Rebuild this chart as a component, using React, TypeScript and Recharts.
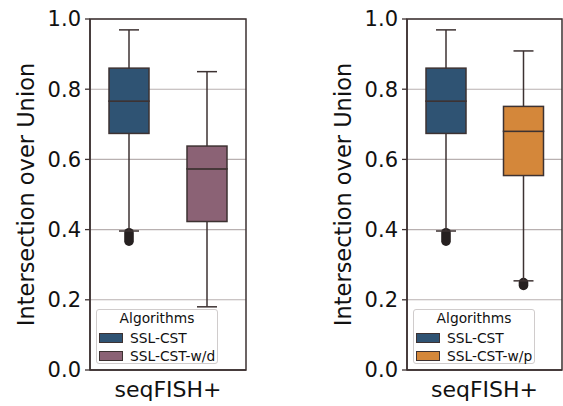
import React from 'react';
import { ComposedChart, Bar, XAxis, YAxis, CartesianGrid, ReferenceArea, Legend } from 'recharts';

// ---- data ----
const groupLabel = 'seqFISH+';
const yTicks = [0, 0.2, 0.4, 0.6, 0.8, 1.0];

const leftCategories = ['SSL-CST', 'SSL-CST-w/d'];
const leftWhiskerLow = [0.396, 0.18];
const leftQ1 = [0.674, 0.423];
const leftMedian = [0.766, 0.573];
const leftQ3 = [0.86, 0.638];
const leftWhiskerHigh = [0.969, 0.85];
const leftOutlierLow: (number | null)[] = [0.367, null];
const leftOutlierHigh: (number | null)[] = [0.391, null];
const leftColors = ['#2f5373', '#8b6275'];

const rightCategories = ['SSL-CST', 'SSL-CST-w/p'];
const rightWhiskerLow = [0.396, 0.254];
const rightQ1 = [0.674, 0.554];
const rightMedian = [0.766, 0.68];
const rightQ3 = [0.86, 0.751];
const rightWhiskerHigh = [0.969, 0.909];
const rightOutlierLow: (number | null)[] = [0.367, 0.241];
const rightOutlierHigh: (number | null)[] = [0.391, 0.249];
const rightColors = ['#2f5373', '#d4873a'];

const LINE = '#3d3232';
const FONT = 'DejaVu Sans, sans-serif';

function buildRows(
  cats: string[], wl: number[], q1: number[], med: number[], q3: number[], wh: number[],
  ol: (number | null)[], oh: (number | null)[], colors: string[]
) {
  return cats.map((c, i) => {
    const hasOut = ol[i] != null && oh[i] != null;
    const base = hasOut ? (ol[i] as number) : wl[i];
    const outSeg = hasOut ? (oh[i] as number) - (ol[i] as number) : 0;
    const gap = hasOut ? wl[i] - (oh[i] as number) : 0;
    return {
      cat: c,
      color: colors[i],
      hasOut,
      base,
      outSeg,
      gap,
      wLow: q1[i] - wl[i],
      boxLo: med[i] - q1[i],
      boxHi: q3[i] - med[i],
      wHigh: wh[i] - q3[i],
    };
  });
}

const Empty = () => null;

const OutlierShape = (props: any) => {
  const { x, y, width, height, payload } = props;
  if (!payload || !payload.hasOut) return null;
  const cx = x + width / 2;
  const r = 4.8;
  return (
    <rect x={cx - r} y={y - r} width={2 * r} height={Math.max(height, 0) + 2 * r} rx={r} ry={r} fill="#262020" />
  );
};

const LowWhisker = (props: any) => {
  const { x, y, width, height } = props;
  const cx = x + width / 2;
  const yb = y + height;
  return (
    <g>
      <line x1={cx} x2={cx} y1={y} y2={yb} stroke={LINE} strokeWidth={1.5} />
      <line x1={cx - width / 4} x2={cx + width / 4} y1={yb} y2={yb} stroke={LINE} strokeWidth={1.5} />
    </g>
  );
};

const HighWhisker = (props: any) => {
  const { x, y, width, height } = props;
  const cx = x + width / 2;
  return (
    <g>
      <line x1={cx} x2={cx} y1={y} y2={y + height} stroke={LINE} strokeWidth={1.5} />
      <line x1={cx - width / 4} x2={cx + width / 4} y1={y} y2={y} stroke={LINE} strokeWidth={1.5} />
    </g>
  );
};

const BoxShape = (props: any) => {
  const { x, y, width, height, payload } = props;
  return (
    <rect x={x} y={y} width={width} height={height} fill={payload.color} stroke={LINE} strokeWidth={1.5} />
  );
};

const YLabel = (props: any) => {
  const vb = props.viewBox || {};
  const cx = 26;
  const cy = vb.y + vb.height / 2;
  return (
    <text
      x={cx}
      y={cy}
      transform={`rotate(-90 ${cx} ${cy})`}
      textAnchor="middle"
      dominantBaseline="central"
      fontSize={22.5}
      fontFamily={FONT}
      fill="#111"
    >
      Intersection over Union
    </text>
  );
};

const makeLegend = (cats: string[], colors: string[]) => () => (
  <div
    style={{
      width: 122,
      height: 55,
      border: '1px solid #d0cccc',
      borderRadius: 3,
      background: 'rgba(255,255,255,0.85)',
      fontFamily: FONT,
      fontSize: 13.8,
      color: '#111',
      boxSizing: 'border-box',
      position: 'relative',
    }}
  >
    <div style={{ position: 'absolute', top: 0, left: 0, width: '100%', textAlign: 'center', lineHeight: '16px' }}>
      Algorithms
    </div>
    {cats.map((c, i) => (
      <div key={c} style={{ position: 'absolute', left: 2, top: 19.5 + i * 18, height: 16, display: 'flex', alignItems: 'center' }}>
        <span
          style={{
            display: 'inline-block',
            width: 22,
            height: 8,
            background: colors[i],
            border: `1px solid ${LINE}`,
            marginRight: 7,
          }}
        />
        <span style={{ lineHeight: '16px', whiteSpace: 'nowrap' }}>{c}</span>
      </div>
    ))}
  </div>
);

const Panel = ({ rows, cats, colors, width, marginRight }: any) => (
  <ComposedChart
    width={width}
    height={406}
    data={rows}
    margin={{ top: 19, right: marginRight, bottom: 0, left: 0 }}
    barCategoryGap={0}
  >
    <CartesianGrid horizontal vertical={false} stroke="#b8b0b0" strokeWidth={1.1} />
    <ReferenceArea y1={0} y2={1} fill="none" stroke={LINE} strokeWidth={1.5} />
    <XAxis
      dataKey="cat"
      type="category"
      height={36}
      tick={false}
      tickLine={false}
      axisLine={{ stroke: LINE, strokeWidth: 1.5 }}
      label={{ value: groupLabel, position: 'insideBottom', offset: 9, fontSize: 22, fontFamily: FONT, fill: '#111' }}
    />
    <YAxis
      type="number"
      domain={[0, 1]}
      ticks={yTicks}
      width={90}
      tickSize={5}
      tickMargin={4}
      interval={0}
      tickFormatter={(v: number) => v.toFixed(1)}
      tick={{ fontSize: 21, fontFamily: FONT, fill: '#111' }}
      tickLine={{ stroke: LINE, strokeWidth: 1.3 }}
      axisLine={{ stroke: LINE, strokeWidth: 1.5 }}
      label={{ content: <YLabel /> }}
    />
    <Legend
      layout="vertical"
      align="center"
      verticalAlign="middle"
      content={makeLegend(cats, colors)}
      wrapperStyle={{ left: 96, top: 309, width: 122, height: 56 }}
    />
    <Bar dataKey="base" stackId="s" barSize={40} shape={<Empty />} isAnimationActive={false} legendType="none" />
    <Bar dataKey="outSeg" stackId="s" barSize={40} shape={<OutlierShape />} isAnimationActive={false} legendType="none" />
    <Bar dataKey="gap" stackId="s" barSize={40} shape={<Empty />} isAnimationActive={false} legendType="none" />
    <Bar dataKey="wLow" stackId="s" barSize={40} shape={<LowWhisker />} isAnimationActive={false} legendType="none" />
    <Bar dataKey="boxLo" stackId="s" barSize={40} shape={<BoxShape />} isAnimationActive={false} legendType="none" />
    <Bar dataKey="boxHi" stackId="s" barSize={40} shape={<BoxShape />} isAnimationActive={false} legendType="none" />
    <Bar dataKey="wHigh" stackId="s" barSize={40} shape={<HighWhisker />} isAnimationActive={false} legendType="none" />
  </ComposedChart>
);

export default function App() {
  const leftRows = buildRows(leftCategories, leftWhiskerLow, leftQ1, leftMedian, leftQ3, leftWhiskerHigh, leftOutlierLow, leftOutlierHigh, leftColors);
  const rightRows = buildRows(rightCategories, rightWhiskerLow, rightQ1, rightMedian, rightQ3, rightWhiskerHigh, rightOutlierLow, rightOutlierHigh, rightColors);
  return (
    <div style={{ position: 'absolute', left: 0, top: 0, width: 563, height: 406, background: '#fff', overflow: 'hidden' }}>
      <div style={{ position: 'absolute', left: 0, top: 0 }}>
        <Panel rows={leftRows} cats={leftCategories} colors={leftColors} width={250} marginRight={4} />
      </div>
      <div style={{ position: 'absolute', left: 317, top: 0 }}>
        <Panel rows={rightRows} cats={rightCategories} colors={rightColors} width={246} marginRight={1} />
      </div>
    </div>
  );
}
